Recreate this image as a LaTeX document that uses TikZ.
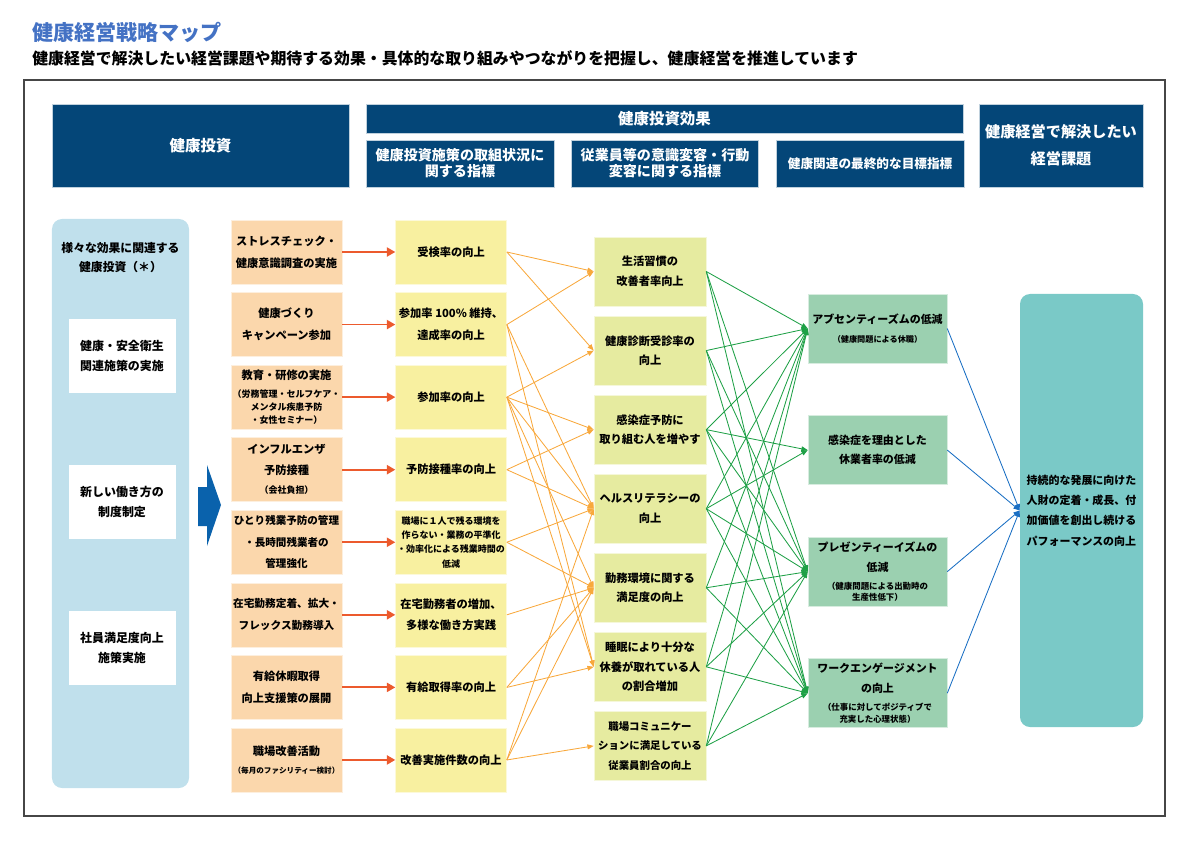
\documentclass[tikz,border=0pt]{standalone}
\usepackage{fontspec}
\setmainfont{Noto Sans CJK JP}
\usepackage{xcolor}
\usetikzlibrary{positioning,arrows.meta}
\definecolor{titleblue}{RGB}{68,114,196}
\definecolor{hdrblue}{RGB}{4,70,120}
\definecolor{colbg}{RGB}{192,224,236}
\definecolor{invfill}{RGB}{251,215,172}
\definecolor{indfill}{RGB}{248,240,160}
\definecolor{efffill}{RGB}{230,235,160}
\definecolor{goalfill}{RGB}{155,208,176}
\definecolor{issuefill}{RGB}{122,201,199}
\definecolor{redarrow}{RGB}{236,90,45}
\definecolor{orangeline}{RGB}{248,168,60}
\definecolor{greenline}{RGB}{30,160,70}
\definecolor{blueline}{RGB}{25,110,195}
\definecolor{bigarrow}{RGB}{10,98,172}
\definecolor{framegray}{RGB}{70,70,70}
\newcommand{\smalltxt}[2][6.3]{{\fontsize{#1}{#1}\selectfont #2}}
\tikzset{
>={Triangle[length=4.5pt,width=3.5pt]},
  hdr/.style={
    rectangle,
    fill=hdrblue, draw=white!75!hdrblue, thin,
    text=white,
    inner sep=0pt,
    align=center,
    font=\fontsize{10}{11.4}\selectfont\bfseries},
  invbox/.style={
    rectangle,
    fill=invfill, draw=white!60!invfill, thin,
    minimum width=27.75mm,
    minimum height=16mm,
    inner sep=0pt,
    align=center,
    font=\fontsize{8}{15.5}\selectfont\bfseries},
  indbox/.style={invbox, fill=indfill, draw=white!60!indfill},
  effbox/.style={invbox, fill=efffill, draw=white!60!efffill, minimum width=28mm, minimum height=17.25mm,
    font=\fontsize{8}{14}\selectfont\bfseries},
  goalbox/.style={invbox, fill=goalfill, draw=white!60!goalfill, minimum width=34.75mm, minimum height=17.25mm,
    font=\fontsize{7.8}{13.5}\selectfont\bfseries},
  wbox/.style={invbox, fill=white, draw=white, minimum width=26.5mm, minimum height=18.25mm,
    font=\fontsize{8.5}{14.2}\selectfont\bfseries},
  redline/.style={draw=redarrow, line width=1.3pt, -{Triangle[length=6pt,width=6.5pt]}},
  oline/.style={draw=orangeline, line width=0.6pt, ->},
  gline/.style={draw=greenline, line width=0.6pt, ->},
  bline/.style={draw=blueline, line width=0.6pt, ->},
}

\begin{document}
\begin{tikzpicture}[x=0.25mm, y=-0.25mm, node distance=2mm]
  \useasboundingbox (0,0) rectangle (1191,842);

  \node[anchor=west, inner sep=0pt, text=titleblue, font=\fontsize{15}{18}\selectfont\bfseries] (title) at (32,32) {健康経営戦略マップ};
  \node[anchor=west, inner sep=0pt, font=\fontsize{11.3}{14}\selectfont\bfseries] (subtitle) at (32,58) {健康経営で解決したい経営課題や期待する効果・具体的な取り組みやつながりを把握し、健康経営を推進しています};
  \draw[framegray, line width=0.8pt] (24,80) rectangle (1165,816);

  % headers
  \node[hdr, minimum width=74.25mm, minimum height=20.75mm, font=\fontsize{11}{13}\selectfont\bfseries] (hinv) at (200.5,145.5) {健康投資};
  \node[hdr, minimum width=47mm, minimum height=11.75mm] (hsub1) at (460,163.5) {健康投資施策の取組状況に\\関する指標};
  \node[hdr, minimum width=46.75mm, minimum height=11.75mm, right=4.25mm of hsub1] (hsub2) {従業員等の意識変容・行動\\変容に関する指標};
  \node[hdr, minimum width=47mm, minimum height=11.75mm, right=4.25mm of hsub2, font=\fontsize{9}{11}\selectfont\bfseries] (hsub3) {健康関連の最終的な目標指標};
  \node[hdr, minimum width=149.25mm, minimum height=7.25mm, font=\fontsize{11}{13}\selectfont\bfseries] (heff) at (664.5,118.5) {健康投資効果};
  \node[hdr, minimum width=41mm, minimum height=20.75mm, font=\fontsize{10.8}{19}\selectfont\bfseries] (hissue) at (1061,145.5) {健康経営で解決したい\\経営課題};

  % left column
  \node[fill=colbg, rounded corners=2.5mm, minimum width=34.25mm, minimum height=142.25mm, inner sep=0pt] (col) at (120.5,503.5) {};
  \node[align=center, inner sep=0pt, font=\fontsize{8.4}{13.5}\selectfont\bfseries] (coltitle) at (120.5,257.5) {様々な効果に関連する\\健康投資（＊）};
  \node[wbox] (w1) at (122,355.5) {健康・安全衛生\\関連施策の実施};
  \node[wbox] (w2) at (122,502) {新しい働き方の\\制度制定};
  \node[wbox] (w3) at (122,648) {社員満足度向上\\施策実施};
  \fill[bigarrow] (198,487) -- (207,487) -- (207,465) -- (221,505) -- (207,546) -- (207,526) -- (198,526) -- cycle;

  % investments
  \node[invbox] (inv1) at (286.5,252) {ストレスチェック・\\健康意識調査の実施};
  \node[invbox, below=of inv1] (inv2) {健康づくり\\キャンペーン参加};
  \node[invbox, below=of inv2, font=\fontsize{8}{9.2}\selectfont\bfseries] (inv3) {教育・研修の実施\\[3.6pt]\smalltxt[6.4]{（労務管理・セルフケア・}\\\smalltxt[6.4]{メンタル疾患予防}\\\smalltxt[6.4]{・女性セミナー）}};
  \node[invbox, below=of inv3, font=\fontsize{8}{15}\selectfont\bfseries] (inv4) {インフルエンザ\\予防接種\\[-1.5pt]\smalltxt[6.4]{（会社負担）}};
  \node[invbox, below=of inv4, font=\fontsize{7.5}{15.3}\selectfont\bfseries] (inv5) {ひとり残業予防の管理\\・長時間残業者の\\管理強化};
  \node[invbox, below=of inv5, font=\fontsize{7.6}{15.5}\selectfont\bfseries] (inv6) {在宅勤務定着、拡大・\\フレックス勤務導入};
  \node[invbox, below=of inv6] (inv7) {有給休暇取得\\向上支援策の展開};
  \node[invbox, below=of inv7] (inv8) {職場改善活動\\[-2.7pt]\smalltxt[5.4]{（毎月のファシリティー検討）}};

  % indicators
  \node[indbox, right=13.25mm of inv1] (ind1) {受検率の向上};
  \node[indbox, right=13.25mm of inv2] (ind2) {参加率 100\% 維持、\\達成率の向上};
  \node[indbox, right=13.25mm of inv3] (ind3) {参加率の向上};
  \node[indbox, right=13.25mm of inv4] (ind4) {予防接種率の向上};
  \node[indbox, right=13.25mm of inv5, font=\fontsize{6.4}{10.2}\selectfont\bfseries] (ind5) {職場に１人で残る環境を\\作らない・業務の平準化\\・効率化による残業時間の\\低減};
  \node[indbox, right=13.25mm of inv6] (ind6) {在宅勤務者の増加、\\多様な働き方実践};
  \node[indbox, right=13.25mm of inv7] (ind7) {有給取得率の向上};
  \node[indbox, right=13.25mm of inv8] (ind8) {改善実施件数の向上};

  % effects
  \node[effbox] (eff1) at (650,271.5) {生活習慣の\\改善者率向上};
  \node[effbox, below=2.375mm of eff1] (eff2) {健康診断受診率の\\向上};
  \node[effbox, below=2.375mm of eff2] (eff3) {感染症予防に\\取り組む人を増やす};
  \node[effbox, below=2.375mm of eff3] (eff4) {ヘルスリテラシーの\\向上};
  \node[effbox, below=2.375mm of eff4] (eff5) {勤務環境に関する\\満足度の向上};
  \node[effbox, below=2.375mm of eff5] (eff6) {睡眠により十分な\\休養が取れている人\\の割合増加};
  \node[effbox, below=2.375mm of eff6, font=\fontsize{7.4}{14}\selectfont\bfseries] (eff7) {職場コミュニケー\\ションに満足している\\従業員割合の向上};

  % goals
  \node[goalbox] (goal1) at (877.5,328.5) {アブセンティーズムの低減\\\smalltxt[5.8]{（健康問題による休職）}};
  \node[goalbox, below=13mm of goal1] (goal2) {感染症を理由とした\\休業者率の低減};
  \node[goalbox, below=13mm of goal2, font=\fontsize{7.8}{8.5}\selectfont\bfseries] (goal3) {プレゼンティーイズムの\\[5.7pt]低減\\[4.3pt]\smalltxt[6]{（健康問題による出勤時の}\\\smalltxt[6]{生産性低下）}};
  \node[goalbox, below=13mm of goal3, font=\fontsize{7.8}{8.5}\selectfont\bfseries] (goal4) {ワークエンゲージメント\\[5.7pt]の向上\\[4.3pt]\smalltxt[6]{（仕事に対してポジティブで}\\\smalltxt[6]{充実した心理状態）}};

  \node[fill=issuefill, rounded corners=2.5mm, minimum width=30.75mm, minimum height=108.25mm, inner sep=0pt, align=left, font=\fontsize{7.8}{14.5}\selectfont\bfseries] (issue) at (1081.5,510.5) {持続的な発展に向けた\\人財の定着・成長、付\\加価値を創出し続ける\\パフォーマンスの向上};

  \path[redline] (inv1) -- (ind1);
  \path[redline] (inv2) -- (ind2);
  \path[redline] (inv3) -- (ind3);
  \path[redline] (inv4) -- (ind4);
  \path[redline] (inv5) -- (ind5);
  \path[redline] (inv6) -- (ind6);
  \path[redline] (inv7) -- (ind7);
  \path[redline] (inv8) -- (ind8);

  \path[oline] (ind1.east) -- (eff1.west);
  \path[oline] (ind1.east) -- (eff2.west);
  \path[oline] (ind2.east) -- (eff1.west);
  \path[oline] (ind2.east) -- (eff4.west);
  \path[oline] (ind2.east) -- (eff6.west);
  \path[oline] (ind3.east) -- (eff2.west);
  \path[oline] (ind3.east) -- (eff3.west);
  \path[oline] (ind3.east) -- (eff4.west);
  \path[oline] (ind3.east) -- (eff5.west);
  \path[oline] (ind3.east) -- (eff6.west);
  \path[oline] (ind4.east) -- (eff3.west);
  \path[oline] (ind4.east) -- (eff4.west);
  \path[oline] (ind5.east) -- (eff4.west);
  \path[oline] (ind5.east) -- (eff5.west);
  \path[oline] (ind6.east) -- (eff5.west);
  \path[oline] (ind7.east) -- (eff5.west);
  \path[oline] (ind7.east) -- (eff6.west);
  \path[oline] (ind8.east) -- (eff4.west);
  \path[oline] (ind8.east) -- (eff5.west);
  \path[oline] (ind8.east) -- (eff7.west);

  \path[gline] (eff1.east) -- (goal1.west);
  \path[gline] (eff1.east) -- (goal3.west);
  \path[gline] (eff1.east) -- (goal4.west);
  \path[gline] (eff2.east) -- (goal1.west);
  \path[gline] (eff2.east) -- (goal3.west);
  \path[gline] (eff2.east) -- (goal4.west);
  \path[gline] (eff3.east) -- (goal1.west);
  \path[gline] (eff3.east) -- (goal2.west);
  \path[gline] (eff3.east) -- (goal3.west);
  \path[gline] (eff3.east) -- (goal4.west);
  \path[gline] (eff4.east) -- (goal1.west);
  \path[gline] (eff4.east) -- (goal2.west);
  \path[gline] (eff4.east) -- (goal3.west);
  \path[gline] (eff4.east) -- (goal4.west);
  \path[gline] (eff5.east) -- (goal1.west);
  \path[gline] (eff5.east) -- (goal3.west);
  \path[gline] (eff5.east) -- (goal4.west);
  \path[gline] (eff6.east) -- (goal1.west);
  \path[gline] (eff6.east) -- (goal3.west);
  \path[gline] (eff6.east) -- (goal4.west);
  \path[gline] (eff7.east) -- (goal1.west);
  \path[gline] (eff7.east) -- (goal3.west);
  \path[gline] (eff7.east) -- (goal4.west);

  \path[bline] (goal1.east) -- (issue.west);
  \path[bline] (goal2.east) -- (issue.west);
  \path[bline] (goal3.east) -- (issue.west);
  \path[bline] (goal4.east) -- (issue.west);
\end{tikzpicture}
\end{document}
